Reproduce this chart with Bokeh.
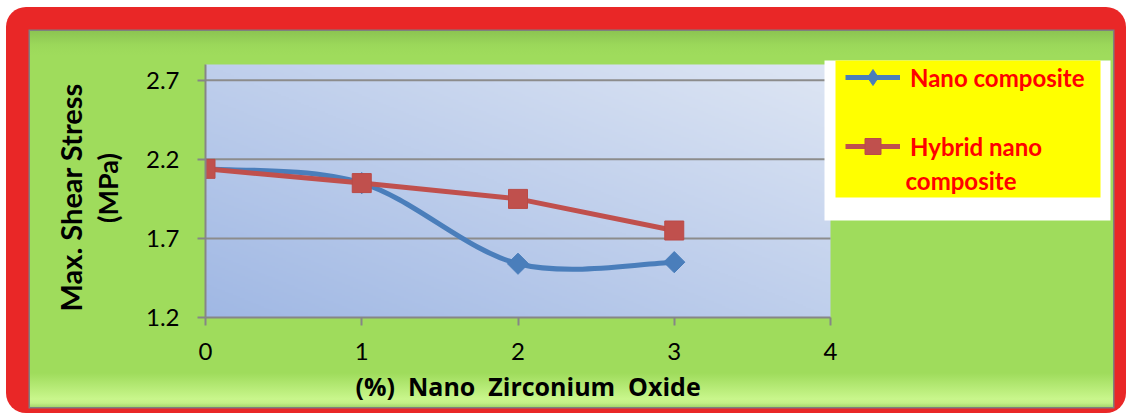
import numpy as np
from bokeh.plotting import figure
from bokeh.layouts import column
from bokeh.models import Range1d, FixedTicker, BoxAnnotation, Label, Legend, LegendItem, Title
from bokeh.embed import file_html
from bokeh.resources import INLINE

# ---------------- data ----------------
pct = [0, 1, 2, 3]
nano = [2.14, 2.05, 1.54, 1.55]
hybrid = [2.14, 2.05, 1.95, 1.75]
x_ticks = [0, 1, 2, 3, 4]
y_ticks = [1.2, 1.7, 2.2, 2.7]
y_axis_max = 2.8
series_names = ["Nano composite", "Hybrid nano composite"]
x_title = "(%)  Nano  Zirconium  Oxide"
y_title = ["Max. Shear Stress", "(MPa)"]

# ---------------- layout (reference-picture pixels) ----------------
OX, OY = 30, 31            # figure origin on the page (inside red frame)
GR, GB = 1113, 407         # green panel right / bottom
FL, FR, FT, FB = 205, 1112, 58, 318   # frame edges
X_AT4 = 830                # pixel of x = 4
Y_AT28 = 64                # pixel of y = 2.8
W, H = GR - OX, GB - OY

px_per_x = (X_AT4 - FL) / (x_ticks[-1] - x_ticks[0])
px_per_y = (FB - Y_AT28) / (y_axis_max - y_ticks[0])
x_end = x_ticks[0] + (FR - FL) / px_per_x
y_end = y_ticks[0] + (FB - FT) / px_per_y


def cx(x):
    return x - OX


def cy(y):
    return y - OY


FONT = "Lato"
FONT_X = "Open Sans"
BLUE = "#4A7EBB"
RED = "#C0504D"
GREEN_BG = ("linear-gradient(to bottom, #8CC452 0px, #9BD85A 14px, #9FDC5C 24px, "
            "#9FDC5C 342px, #C9F68C 368px, #C4F087 372px, #A6D66C 376px)")

p = figure(width=W, height=H, x_range=Range1d(x_ticks[0], x_end), y_range=Range1d(y_ticks[0], y_end),
           output_backend="svg", toolbar_location=None,
           min_border_left=FL - OX, min_border_right=GR - FR, min_border_top=FT - OY,
           min_border_bottom=GB - FB,
           border_fill_color=None, background_fill_color=None, outline_line_color=None,
           styles={"background": GREEN_BG, "box-shadow": "0 0 0 1.5px #7F7F7F"})
p.title.visible = False


def box(l, r, t, b, **kw):
    bx = BoxAnnotation(left=cx(l), right=cx(r), top=cy(t), bottom=cy(b),
                       left_units="canvas", right_units="canvas",
                       top_units="canvas", bottom_units="canvas", **kw)
    p.add_layout(bx)
    return bx


# plot-area gradient (only over the data area 0..4 x 1.2..2.8)
gw, gh = 400, 160
u = np.linspace(0, 1, gw)[None, :]
v = np.linspace(0, 1, gh)[:, None]
t = (u + v) / 2.0
c0 = np.array([160, 184, 228], float)
c1 = np.array([222, 230, 244], float)
img = np.empty((gh, gw), dtype=np.uint32)
view = img.view(dtype=np.uint8).reshape((gh, gw, 4))
for k in range(3):
    view[:, :, k] = (c0[k] + (c1[k] - c0[k]) * t).astype(np.uint8)
view[:, :, 3] = 255
p.image_rgba(image=[img], x=x_ticks[0], y=y_ticks[0],
             dw=x_ticks[-1] - x_ticks[0], dh=y_axis_max - y_ticks[0], level="underlay")

# horizontal gridlines over the data area
gy = y_ticks[1:]
p.segment(x0=[x_ticks[0]] * len(gy), x1=[x_ticks[-1]] * len(gy), y0=gy, y1=gy,
          line_color="#8C8C8C", line_width=2)
p.xgrid.visible = False
p.ygrid.visible = False

# smoothed nano composite series (Catmull-Rom style bezier segments)
xs = np.array(pct, float)
ys = np.array(nano, float)
n = len(xs)
x0, y0, x1, y1, bx0, by0, bx1, by1 = [], [], [], [], [], [], [], []
for i in range(n - 1):
    im1 = max(i - 1, 0)
    ip2 = min(i + 2, n - 1)
    x0.append(xs[i]); y0.append(ys[i]); x1.append(xs[i + 1]); y1.append(ys[i + 1])
    bx0.append(xs[i] + (xs[i + 1] - xs[im1]) / 6.0)
    by0.append(ys[i] + (ys[i + 1] - ys[im1]) / 6.0)
    bx1.append(xs[i + 1] - (xs[ip2] - xs[i]) / 6.0)
    by1.append(ys[i + 1] - (ys[ip2] - ys[i]) / 6.0)
r_nano_line = p.bezier(x0=x0, y0=y0, x1=x1, y1=y1, cx0=bx0, cy0=by0, cx1=bx1, cy1=by1,
                       line_color=BLUE, line_width=5)
# diamond glyph used by the legend key (fully covered by the rotated squares on the chart)
r_nano_key = p.scatter(pct, nano, marker="diamond", size=12, fill_color=BLUE, line_color=BLUE)
r_nano_pts = p.scatter(pct, nano, marker="square", angle=np.pi / 4, size=15,
                       fill_color=BLUE, line_color=BLUE)

r_hyb_line = p.line(pct, hybrid, line_color=RED, line_width=5)
r_hyb_pts = p.scatter(pct, hybrid, marker="square", size=19, fill_color=RED, line_color="#BA4A47")

# axes
p.xaxis.ticker = FixedTicker(ticks=x_ticks)
p.yaxis.ticker = FixedTicker(ticks=y_ticks)
p.xaxis.bounds = (x_ticks[0], x_ticks[-1])
p.yaxis.bounds = (y_ticks[0], y_axis_max)
for ax in (p.xaxis[0], p.yaxis[0]):
    ax.axis_line_color = "#868686"
    ax.axis_line_width = 2
    ax.major_tick_line_color = "#868686"
    ax.major_tick_line_width = 2
    ax.major_tick_out = 8
    ax.major_tick_in = 0
    ax.minor_tick_line_color = None
    ax.major_label_text_font = FONT
    ax.major_label_text_font_size = "24px"
    ax.major_label_text_color = "#000000"
p.yaxis.major_label_standoff = 18
p.xaxis.major_label_standoff = 17

# y-axis title: second line as the axis label, first line as an outer title
yax = p.yaxis[0]
yax.axis_label = y_title[1]
yax.axis_label_standoff = 19
yax.axis_label_text_font = FONT
yax.axis_label_text_font_size = "27px"
yax.axis_label_text_font_style = "bold"
yax.axis_label_text_color = "#000000"
p.add_layout(Title(text=y_title[0], align="left", offset=6, standoff=0, text_font=FONT,
                   text_font_size="29px", text_font_style="bold", text_color="#000000"), "left")
p.add_layout(Title(text=x_title.replace("  ", "\u00a0 "), align="left", offset=355 - FL, standoff=9,
                   text_font=FONT_X, text_font_size="25px", text_font_style="bold",
                   text_color="#000000"), "below")

# legend backgrounds
box(824, 1110, 60, 220, fill_color="white", fill_alpha=1, line_color=None)
box(835, 1100, 60, 197, fill_color="#FFFF00", fill_alpha=1, line_color=None)

leg_lines = ["Nano composite", "Hybrid nano", "composite"]
legend = Legend(items=[LegendItem(label=leg_lines[0], renderers=[r_nano_line, r_nano_key]),
                       LegendItem(label=leg_lines[1], renderers=[r_hyb_line, r_hyb_pts])],
                location=(845 - FL, FB - 167), orientation="vertical",
                background_fill_alpha=0, border_line_color=None, padding=0, margin=0,
                spacing=29, glyph_width=55, glyph_height=40, label_height=40, label_standoff=10,
                label_text_font=FONT, label_text_font_style="bold", label_text_font_size="24px",
                label_text_color="#FF0000")
p.add_layout(legend)

p.add_layout(Label(x=cx(905), y=cy(180), x_units="canvas", y_units="canvas", text=leg_lines[2],
                   text_align="left", text_baseline="middle", text_font=FONT,
                   text_font_style="bold", text_font_size="24px", text_color="#FF0000"))

page = column(p, styles={"background-color": "#E92727", "padding": "24px 13px 6px 24px",
                         "margin": "7px 0px 0px 6px", "border-radius": "20px"})

open("out.html", "w").write(file_html(page, INLINE))
